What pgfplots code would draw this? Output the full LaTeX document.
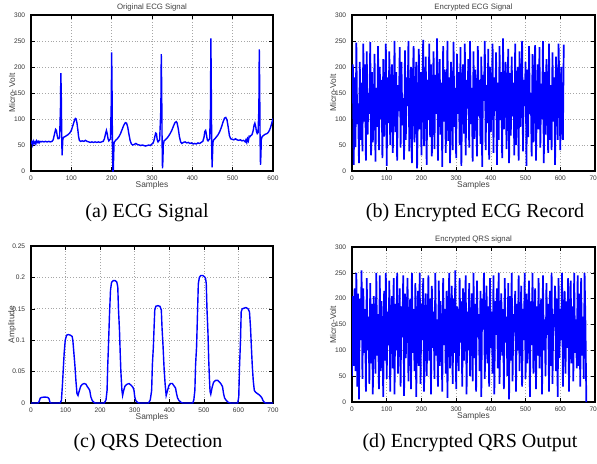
\documentclass[border=0pt]{standalone}
\usepackage{fontspec}
\setmainfont{Liberation Serif}
\newfontfamily\hv{Liberation Sans}
\usepackage{pgfplots}
\pgfplotsset{compat=1.18}
\pgfplotsset{matlab/.style={
  scale only axis, anchor=south west,
  axis line style={line width=0.75pt, black},
  tick align=inside, major tick length=1.8pt,
  tick style={line width=0.3pt, black},
  grid=major, major grid style={densely dotted, gray!70, line width=0.35pt},
  ticklabel style={font=\hv\fontsize{3.3}{3.6}\selectfont, text=black!80},
  /pgf/number format/assume math mode=true,
  xticklabel style={yshift=1pt},
  yticklabel style={xshift=0.6pt},
  every axis x label/.style={at={(axis description cs:0.5,-0.09)}, anchor=center, font=\hv\fontsize{4.2}{4.6}\selectfont, text=black!75},
  every axis y label/.style={at={(axis description cs:-0.078,0.5)}, anchor=center, rotate=90, font=\hv\fontsize{4.2}{4.6}\selectfont, text=black!75},
  every axis title/.style={at={(axis description cs:0.5,1.05)}, anchor=center, font=\hv\fontsize{3.9}{4.2}\selectfont, text=black!75},
  every axis plot/.append style={blue, line width=0.7pt, no marks},
  scaled ticks=false,
}}
\begin{document}
\begin{tikzpicture}
\useasboundingbox (0,0) rectangle (298.5pt,231.5pt);
% (a)
\begin{axis}[matlab, at={(15.5pt,146pt)}, width=121pt, height=78pt,
  xmin=0, xmax=600, ymin=0, ymax=300, xtick={0,100,...,600}, ytick={0,50,...,300},
  title={Original ECG Signal}, xlabel={Samples}, ylabel={Micro- Volt}]
\addplot coordinates {(0,52)(2,56)(4,50)(6,57)(8,53)(10,56)(12,52)(14,58)(16,55)(18,57)(20,54)(22,57)(25,56)(28,57)(32,56)(36,57)(40,56)(44,57)(48,56)(52,57)(55,60)(58,70)(61,80)(63,78)(65,68)(67,62)(69,62)(71,65)(73,120)(74,188)(75,150)(76,80)(77,30)(78,45)(79,62)(81,65)(84,66)(88,68)(92,70)(96,73)(100,78)(104,88)(108,98)(110,101)(112,100)(114,92)(116,80)(118,66)(120,59)(123,57)(127,58)(131,57)(135,59)(139,57)(143,56)(147,55)(151,56)(155,55)(159,56)(163,55)(167,56)(171,55)(175,56)(179,57)(182,62)(185,72)(187,78)(189,72)(191,62)(193,58)(195,60)(197,62)(199,130)(200,228)(201,150)(202,40)(203,0)(204,0)(205,30)(206,55)(208,57)(211,60)(214,62)(218,66)(222,72)(226,80)(230,88)(234,93)(237,92)(240,84)(243,70)(246,58)(249,52)(252,50)(256,51)(260,53)(264,51)(268,50)(272,49)(276,50)(280,49)(284,48)(288,49)(292,50)(296,49)(300,52)(303,54)(306,62)(309,73)(311,72)(313,60)(315,56)(317,58)(319,60)(322,120)(323,225)(324,160)(325,60)(326,5)(327,20)(328,50)(330,58)(333,60)(337,63)(341,67)(345,72)(349,78)(353,86)(357,93)(360,95)(362,93)(365,82)(368,66)(371,56)(374,53)(378,55)(382,56)(386,54)(390,55)(394,53)(398,54)(402,52)(406,53)(410,52)(414,54)(418,53)(422,55)(426,57)(429,65)(431,76)(433,78)(435,70)(437,60)(439,58)(441,60)(443,62)(445,120)(446,255)(447,160)(448,50)(449,7)(450,30)(451,55)(453,60)(456,62)(460,66)(464,70)(468,76)(472,84)(476,94)(480,102)(483,103)(486,98)(489,84)(492,68)(495,62)(499,61)(503,60)(507,62)(511,60)(515,59)(519,60)(523,58)(527,59)(531,56)(533,60)(535,55)(537,62)(539,58)(541,67)(543,66)(545,68)(548,70)(551,78)(553,88)(555,92)(557,86)(559,76)(561,72)(563,74)(565,120)(566,234)(567,160)(568,60)(569,12)(570,30)(571,60)(573,66)(576,68)(579,70)(582,71)(585,72)(588,74)(591,78)(594,84)(597,92)(600,101)};
\end{axis}
% (b)
\begin{axis}[matlab, at={(176pt,146pt)}, width=121.5pt, height=78pt,
  xmin=0, xmax=700, ymin=0, ymax=300, xtick={0,100,...,700}, ytick={0,50,...,300},
  title={Encrypted ECG Signal}, xlabel={Samples}, ylabel={Micro-Volt}]
\addplot[line width=0.85pt] table[row sep=\\, x expr=\coordindex*2.5, y=v] {v\\
130\\205\\12\\180\\46\\247\\90\\130\\15\\210\\60\\170\\38\\245\\95\\205\\20\\230\\70\\150\\
110\\248\\30\\190\\55\\120\\225\\18\\160\\85\\240\\40\\200\\100\\175\\25\\215\\66\\138\\245\\
10\\180\\92\\230\\50\\155\\205\\35\\120\\250\\75\\190\\20\\165\\115\\238\\45\\210\\88\\140\\
22\\232\\60\\180\\125\\250\\38\\95\\200\\15\\170\\240\\55\\145\\210\\5\\118\\235\\80\\190\\
30\\160\\252\\48\\128\\220\\12\\175\\98\\245\\65\\205\\28\\150\\230\\42\\185\\110\\255\\20\\
140\\215\\70\\170\\8\\240\\95\\195\\35\\125\\250\\58\\180\\15\\210\\135\\40\\248\\85\\160\\
25\\225\\110\\190\\50\\238\\10\\150\\205\\72\\245\\30\\175\\120\\215\\45\\250\\90\\160\\18\\
230\\62\\195\\140\\28\\240\\105\\175\\52\\220\\8\\185\\135\\250\\40\\165\\92\\235\\22\\200\\
75\\148\\245\\35\\180\\115\\228\\12\\170\\60\\240\\98\\190\\25\\255\\80\\155\\210\\42\\130\\
235\\15\\188\\68\\220\\105\\170\\30\\245\\50\\160\\200\\20\\230\\85\\140\\250\\38\\175\\125\\
210\\10\\195\\65\\240\\110\\150\\28\\225\\55\\180\\242\\20\\135\\205\\80\\238\\45\\168\\100\\
250\\15\\190\\70\\215\\130\\35\\245\\60\\165\\40\\228\\95\\180\\12\\220\\150\\60\\245\\160\\
40\\200\\90\\60\\243\\
};
\end{axis}
% (c)
\begin{axis}[matlab, at={(15.5pt,30pt)}, width=121pt, height=78.5pt,
  xmin=0, xmax=700, ymin=0, ymax=0.25, xtick={0,100,...,700}, ytick={0,0.05,0.1,0.15,0.2,0.25},
  yticklabels={0,0.05,0.1,0.15,0.2,0.25},
  xlabel={Samples}, ylabel={Amplitude}]
\addplot coordinates {(0,0)(20,0)(23,0.002)(27,0.008)(32,0.009)(40,0.0095)(48,0.009)(52,0.007)(55,0.001)(58,0)(84,0)(88,0.004)(91,0.03)(93,0.05)(96,0.08)(99,0.1)(103,0.108)(108,0.109)(114,0.108)(119,0.106)(121,0.1)(124,0.08)(127,0.06)(130,0.035)(133,0.015)(136,0.012)(140,0.02)(144,0.027)(149,0.03)(154,0.031)(159,0.03)(163,0.026)(167,0.023)(170,0.02)(173,0.01)(177,0.004)(182,0.001)(186,0)(212,0)(217,0.005)(220,0.02)(222,0.06)(224,0.09)(227,0.14)(230,0.18)(233,0.192)(238,0.195)(243,0.195)(248,0.193)(251,0.185)(253,0.15)(256,0.115)(258,0.08)(260,0.05)(263,0.02)(265,0.012)(268,0.02)(272,0.027)(278,0.03)(284,0.031)(290,0.028)(295,0.025)(298,0.02)(300,0.01)(303,0.004)(308,0.001)(313,0)(340,0)(345,0.005)(349,0.02)(351,0.06)(354,0.09)(356,0.12)(358,0.148)(361,0.154)(367,0.155)(373,0.154)(377,0.148)(379,0.12)(382,0.09)(385,0.055)(388,0.03)(391,0.012)(395,0.02)(399,0.028)(404,0.031)(409,0.031)(414,0.027)(418,0.024)(421,0.015)(424,0.008)(428,0.004)(434,0.001)(440,0)(468,0)(471,0.005)(474,0.02)(476,0.06)(479,0.09)(481,0.13)(484,0.19)(487,0.2)(491,0.203)(497,0.203)(502,0.201)(505,0.198)(507,0.19)(509,0.15)(512,0.11)(514,0.07)(516,0.04)(518,0.018)(520,0.014)(524,0.025)(528,0.033)(534,0.036)(540,0.036)(546,0.033)(550,0.03)(554,0.026)(557,0.015)(560,0.008)(565,0.004)(571,0.001)(577,0)(598,0)(601,0.01)(603,0.055)(606,0.1)(608,0.145)(611,0.15)(616,0.151)(622,0.152)(628,0.15)(632,0.145)(635,0.12)(637,0.095)(640,0.06)(643,0.035)(646,0.02)(650,0.017)(655,0.015)(660,0.013)(664,0.011)(668,0.008)(671,0.004)(675,0.001)(680,0)(700,0)};
\end{axis}
% (d)
\begin{axis}[matlab, at={(176pt,30.5pt)}, width=121.5pt, height=77.5pt,
  xmin=0, xmax=700, ymin=0, ymax=300, xtick={0,100,...,700}, ytick={0,50,...,300},
  title={Encrypted QRS signal}, xlabel={Samples}, ylabel={Micro-Volt}]
\addplot[line width=0.85pt] table[row sep=\\, x expr=\coordindex*2.5, y=v] {v\\
50\\205\\70\\220\\60\\250\\30\\210\\5\\200\\120\\255\\45\\220\\95\\180\\20\\240\\100\\165\\
35\\230\\75\\190\\15\\205\\140\\55\\250\\90\\170\\25\\245\\60\\195\\130\\10\\215\\80\\250\\
45\\175\\110\\235\\20\\160\\205\\65\\240\\15\\190\\100\\250\\55\\140\\220\\30\\185\\125\\245\\
12\\210\\85\\170\\240\\40\\155\\200\\25\\250\\95\\180\\60\\230\\10\\145\\215\\70\\250\\35\\
190\\120\\240\\20\\165\\210\\50\\135\\245\\80\\200\\15\\225\\105\\175\\45\\250\\90\\160\\30\\
235\\70\\195\\140\\20\\240\\110\\180\\55\\215\\8\\170\\250\\65\\130\\225\\35\\200\\95\\255\\
25\\185\\150\\60\\240\\115\\195\\30\\220\\80\\165\\245\\15\\175\\100\\230\\50\\145\\210\\40\\
250\\85\\190\\20\\235\\125\\170\\60\\215\\10\\200\\140\\250\\45\\160\\225\\75\\185\\30\\240\\
105\\175\\55\\245\\15\\195\\130\\220\\65\\250\\35\\150\\210\\90\\180\\25\\240\\115\\165\\50\\
230\\5\\205\\80\\250\\40\\170\\135\\215\\20\\190\\100\\245\\60\\155\\225\\30\\180\\120\\250\\
45\\210\\75\\165\\235\\10\\195\\110\\250\\55\\140\\220\\25\\185\\90\\240\\65\\175\\200\\15\\
245\\100\\160\\50\\230\\130\\190\\20\\215\\70\\250\\35\\170\\145\\225\\60\\200\\10\\240\\85\\
180\\120\\250\\30\\165\\215\\55\\195\\105\\240\\20\\150\\235\\75\\185\\40\\250\\95\\160\\65\\
245\\70\\210\\30\\240\\90\\165\\45\\250\\150\\0\\
};
\end{axis}
\node[font=\fontsize{10}{12}\selectfont] at (73.5pt,125pt) {(a) ECG Signal};
\node[font=\fontsize{10}{12}\selectfont] at (237.5pt,125pt) {(b) Encrypted ECG Record};
\node[font=\fontsize{10}{12}\selectfont] at (74pt,10pt) {(c) QRS Detection};
\node[font=\fontsize{10}{12}\selectfont] at (235pt,10pt) {(d) Encrypted QRS Output};
\end{tikzpicture}
\end{document}
